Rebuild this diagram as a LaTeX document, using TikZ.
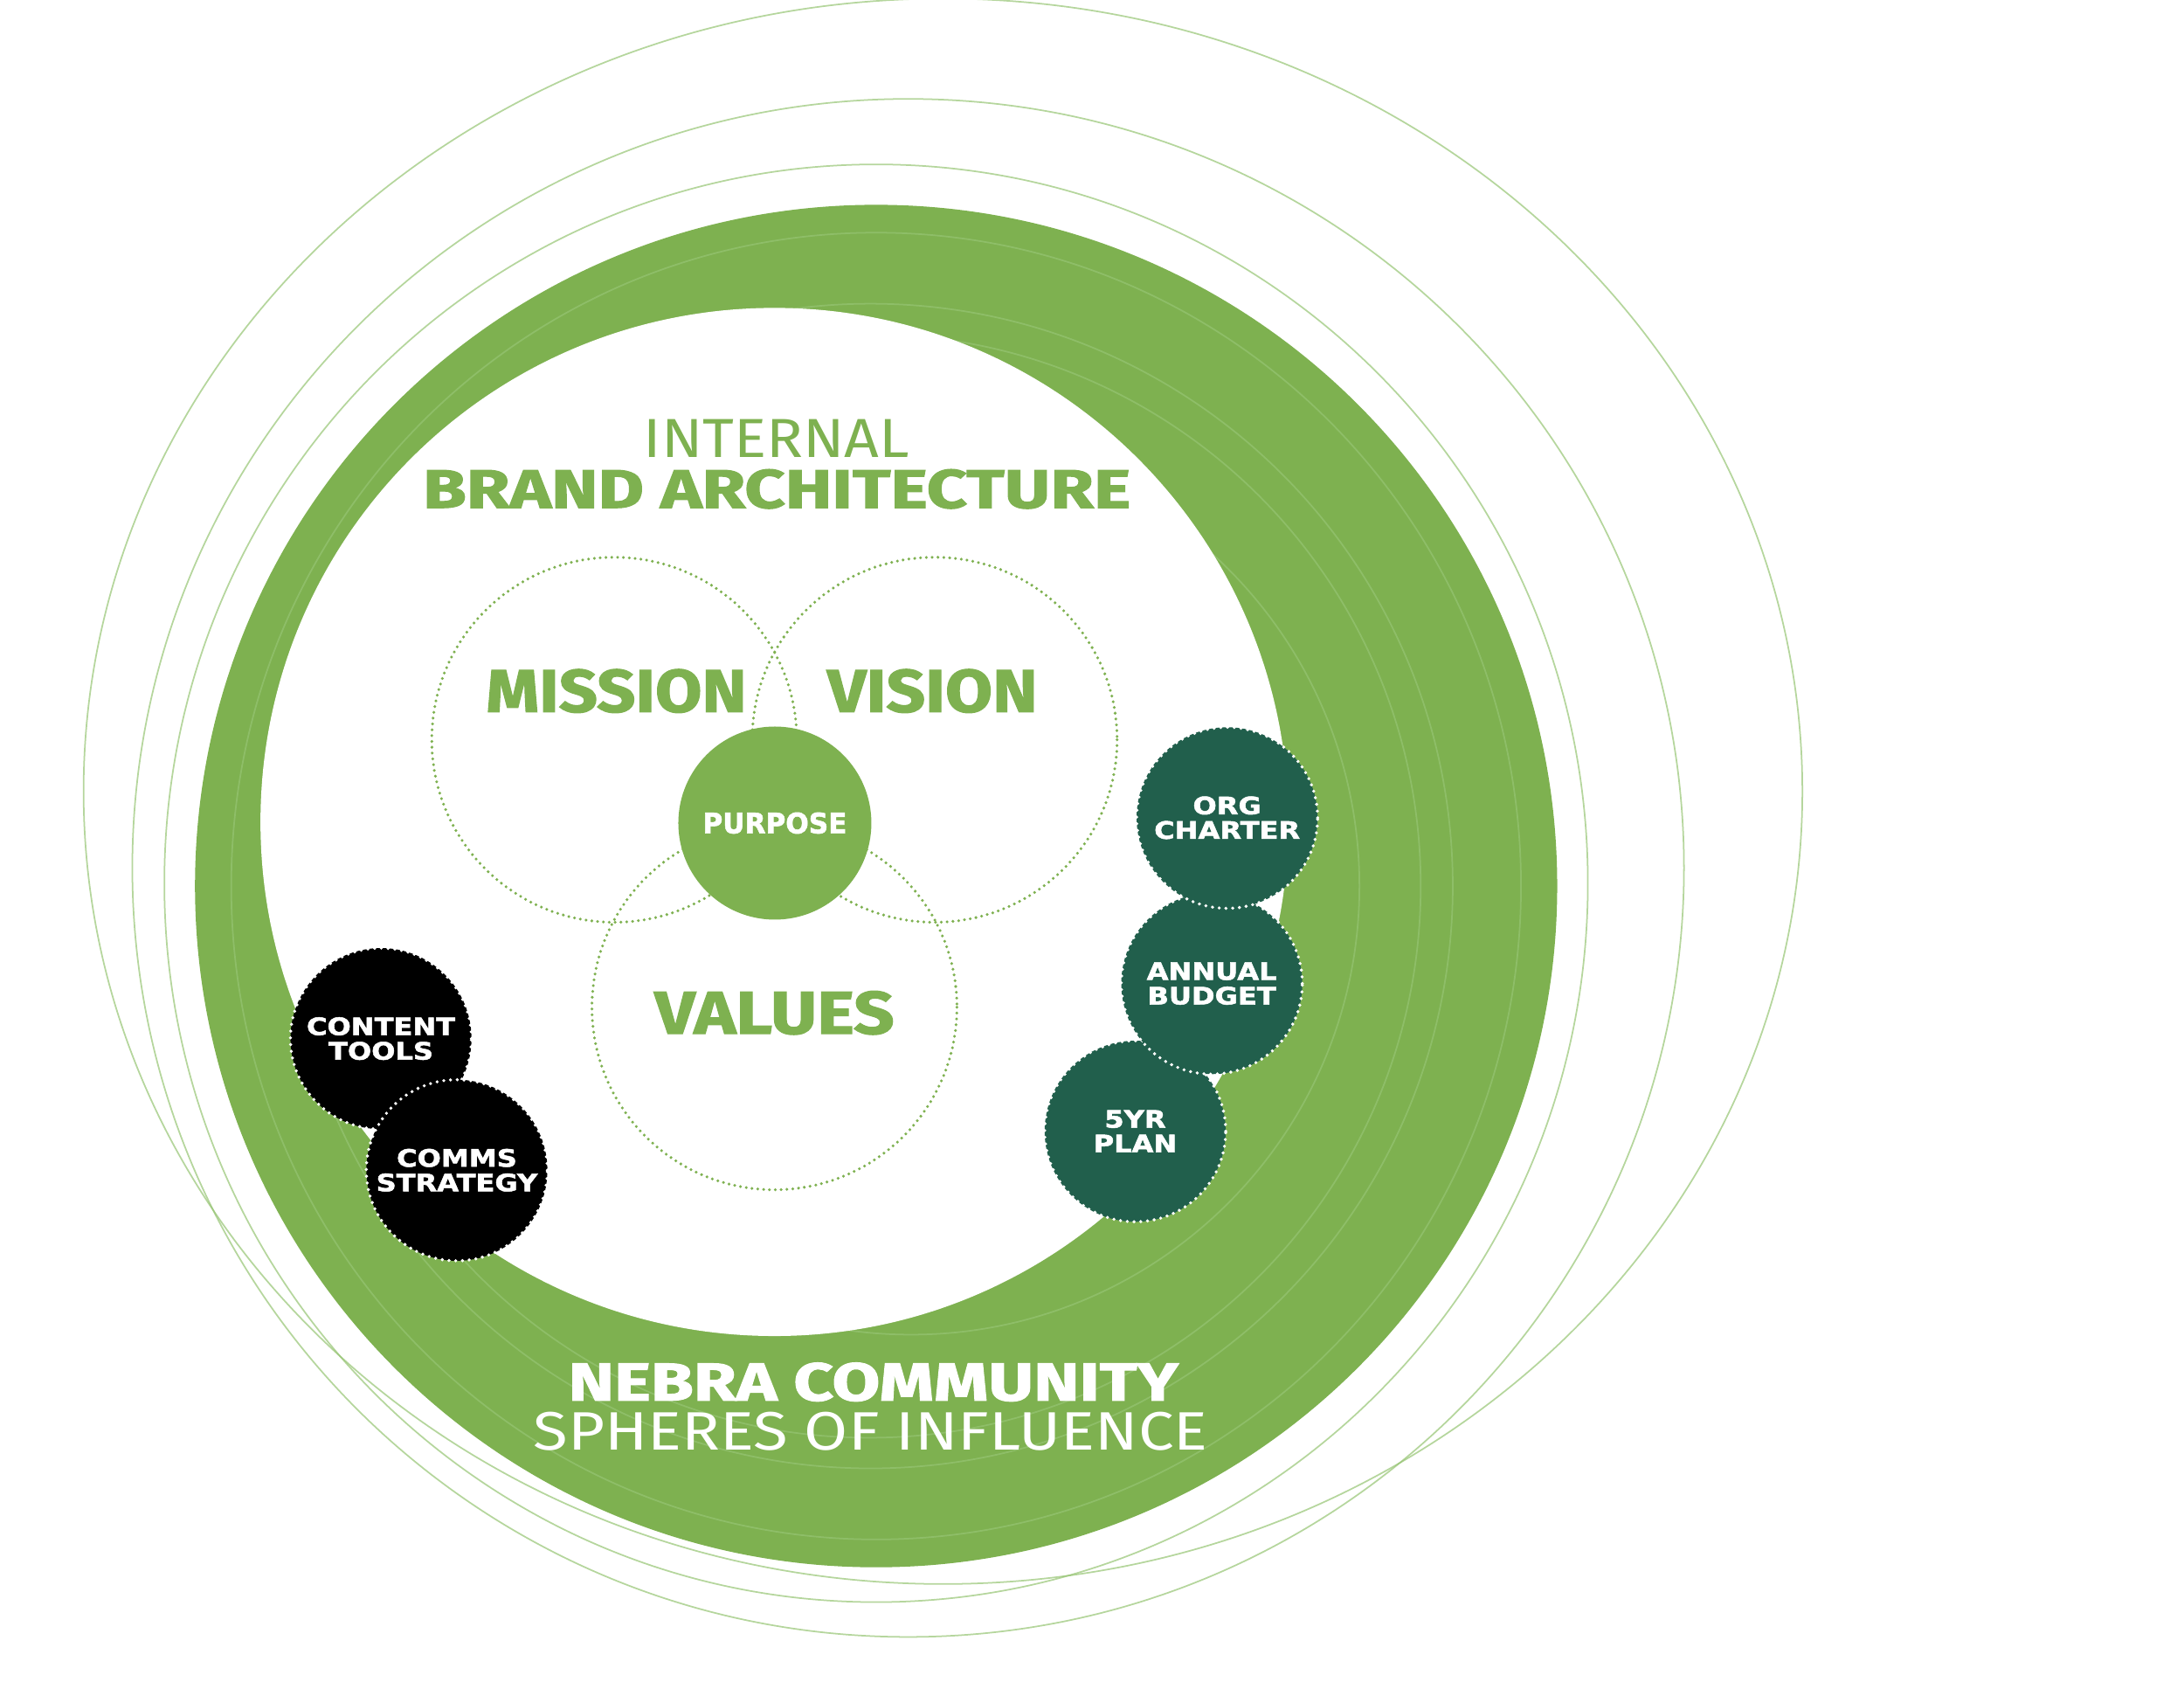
\documentclass[tikz,border=0pt]{standalone}
\usepackage{fontspec}
\usepackage{graphicx}
\newfontfamily\heavyfont{Fira Sans}[BoldFeatures={FakeBold=1.6}]
\newfontfamily\lightfont{Fira Sans}
\newfontfamily\tagfont{DejaVu Sans}[BoldFeatures={FakeBold=1.8}]
\definecolor{leaf}{RGB}{126,177,80}
\definecolor{haze}{RGB}{150,196,115}
\definecolor{pine}{RGB}{33,95,76}
\newcommand{\fitbox}[3]{\resizebox{#1}{#2}{#3}}
\newcommand{\wide}[1]{\scalebox{1.17}[1]{#1}}
\tikzset{
  sphere/.style={draw=haze, draw opacity=0.7, line width=0.5pt},
  venn/.style={draw=leaf, line width=1pt, dash pattern=on 0pt off 1.9pt, line cap=round},
  heading/.style={inner sep=0pt, text=leaf},
  tagdisc/.style={circle, minimum size=2.073cm, inner sep=0pt, draw=white, line width=1.1pt,
    dash pattern=on 0pt off 2.2pt, line cap=round, text=white, align=center,
    font=\tagfont\bfseries\fontsize{7.8}{8}\selectfont},
}
\begin{document}
\begin{tikzpicture}[x=0.015944cm, y=-0.015944cm]
		\useasboundingbox (0,0) rectangle (1568,1212);
		\coordinate (ring) at (629,636);
		\coordinate (hole) at (556,590);
		\coordinate (M) at (441,531);
		\coordinate (V) at (671,531);
		\coordinate (U) at (556,723);
		\fill[leaf] (ring) circle (489);
		\draw[sphere] (677,568) ellipse [x radius=617, y radius=569];
		\draw[sphere] (652,623) ellipse [x radius=557, y radius=552];
		\draw[sphere] (629,634) ellipse [x radius=511, y radius=516];
		\draw[sphere] (629,636) ellipse [x radius=463, y radius=469];
		\draw[sphere] (625,636) circle (418);
		\draw[sphere] (624,636) circle (396);
		\draw[sphere] (654,636) circle (322);
		\fill[white] (hole) circle (369);
		\node[heading] (internal) at (557.5,315) {\fitbox{3.045cm}{0.434cm}{\lightfont INTERNAL}};
		\node[heading] (brand) at (557.7,351) {\fitbox{8.101cm}{0.443cm}{\heavyfont\bfseries BRAND ARCHITECTURE}};
		\draw[venn] (M) circle (131);
		\draw[venn] (V) circle (131);
		\draw[venn] (U) circle (131);
		\node[heading] (mission) at (442.5,496) {\fitbox{2.982cm}{0.49cm}{\heavyfont\bfseries MISSION}};
		\node[heading] (vision) at (669.5,496) {\fitbox{2.408cm}{0.49cm}{\heavyfont\bfseries VISION}};
		\node[heading] (values) at (556,727) {\fitbox{2.742cm}{0.49cm}{\heavyfont\bfseries VALUES}};
		\node[circle, fill=leaf, minimum size=2.21cm, inner sep=0pt, text=white] (purpose) at (556.3,590.8)
			{\raisebox{-0.5mm}{\fitbox{1.65cm}{0.239cm}{\tagfont\bfseries PURPOSE}}};
		\node[inner sep=0pt, text=white] (nebra) at (627,992) {\fitbox{6.983cm}{0.434cm}{\heavyfont\bfseries NEBRA COMMUNITY}};
		\node[inner sep=0pt, text=white] (spheres) at (625,1027.5) {\fitbox{7.717cm}{0.434cm}{\lightfont SPHERES OF INFLUENCE}};
		\node[tagdisc, fill=pine] (plan) at (815,812) {\wide{5YR}\\\wide{PLAN}};
		\node[tagdisc, fill=pine] (budget) at (870,706) {\wide{ANNUAL}\\\wide{BUDGET}};
		\node[tagdisc, fill=pine] (charter) at (881,587) {\wide{ORG}\\\wide{CHARTER}};
		\node[tagdisc, fill=black] (content) at (273.5,745.5) {\wide{CONTENT}\\\wide{TOOLS}};
		\node[tagdisc, fill=black] (comms) at (328,840) {\wide{COMMS}\\\wide{STRATEGY}};
	\end{tikzpicture}
\end{document}
